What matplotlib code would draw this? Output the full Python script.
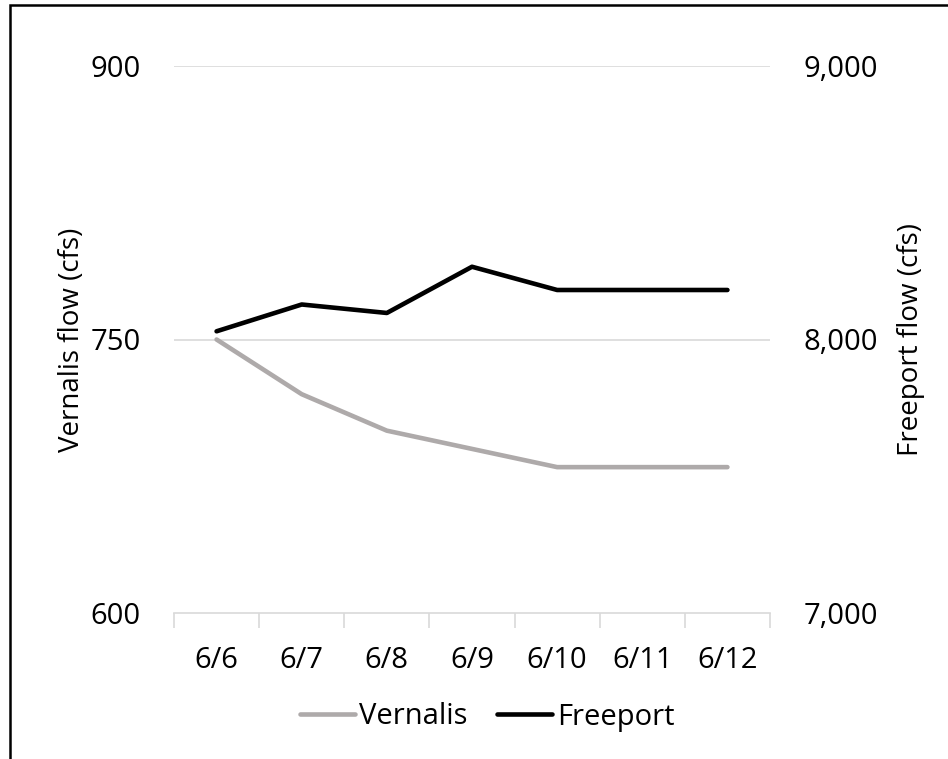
import matplotlib
matplotlib.use("Agg")
import matplotlib.pyplot as plt
from matplotlib.patches import Rectangle
from matplotlib.ticker import FuncFormatter

plt.rcParams['font.family'] = ['Open Sans', 'DejaVu Sans']

dates = ['6/6', '6/7', '6/8', '6/9', '6/10', '6/11', '6/12']
vernalis = [750, 720, 700, 690, 680, 680, 680]
freeport = [8030, 8128, 8097, 8266, 8181, 8181, 8181]

grey = '#AEAAAA'
grid_c = '#D9D9D9'
fs = 21

fig = plt.figure(figsize=(9.48, 7.59), dpi=100)
ax = fig.add_axes([174/948, 1-613/759, (770-174)/948, (613-66)/759])
ax2 = ax.twinx()

x = list(range(len(dates)))
l1, = ax.plot(x, vernalis, color=grey, lw=3.3, solid_capstyle='round', label='Vernalis')
l2, = ax2.plot(x, freeport, color='black', lw=3.3, solid_capstyle='round', label='Freeport')

ax.set_xlim(-0.5, len(dates) - 0.5)
ax.set_ylim(600, 900)
ax.set_yticks([600, 750, 900])
ax2.set_ylim(7000, 9000)
ax2.set_yticks([7000, 8000, 9000])
ax2.yaxis.set_major_formatter(FuncFormatter(lambda v, p: f'{int(v):,}'))

ax.set_xticks(x)
ax.set_xticklabels(dates)
ax.set_xticks([i - 0.5 for i in range(len(dates) + 1)], minor=True)
ax.tick_params(axis='x', which='major', length=0, pad=24, labelsize=fs)
ax.tick_params(axis='x', which='minor', length=11, width=1.2, color=grid_c)
ax.tick_params(axis='y', length=0, pad=24, labelsize=fs)
ax2.tick_params(axis='y', length=0, pad=24, labelsize=fs)

for a in (ax, ax2):
    for s in a.spines.values():
        s.set_visible(False)
ax.spines['bottom'].set_visible(True)
ax.spines['bottom'].set_color(grid_c)
ax.spines['bottom'].set_linewidth(1.2)

for v in [750, 900]:
    ax.axhline(v, color=grid_c, lw=1.2, zorder=0)

ax.set_ylabel('Vernalis flow (cfs)', fontsize=20, labelpad=3)
ax2.set_ylabel('Freeport flow (cfs)', fontsize=20, labelpad=14)

fig.legend(handles=[l1, l2], loc='center', bbox_to_anchor=(487/948, 1-717/759),
           ncol=2, frameon=False, fontsize=fs, handlelength=1.9,
           handletextpad=0.15, columnspacing=1.0)

# chart border (left and top edges are visible)
fig.patches.append(Rectangle((9.5/948, -0.5), 2, 1.5 - 4.5/759, transform=fig.transFigure,
                             fill=False, edgecolor='black', lw=1.8))

fig.savefig('out.png', dpi=100)
